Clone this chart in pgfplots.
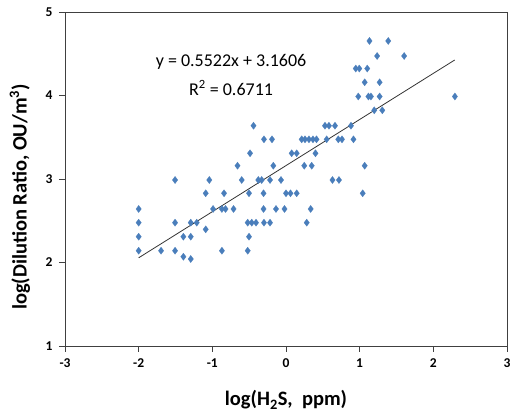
\documentclass[border=0pt]{standalone}
\usepackage{fontspec}
\setmainfont{Carlito}
\usepackage{pgfplots}
\pgfplotsset{compat=1.18}
\definecolor{ptblue}{HTML}{4A7EBB}
\definecolor{frame}{HTML}{404040}
\begin{document}
\begin{tikzpicture}
\useasboundingbox (-65pt,-68pt) rectangle (446pt,346pt);
\begin{axis}[
  at={(0,0)}, anchor=south west,
  scale only axis, width=442pt, height=334pt,
  xmin=-3, xmax=3, ymin=1, ymax=5,
  xtick={-3,-2,...,3}, ytick={1,2,...,5},
  tick align=outside, major tick length=6pt,
  xtick pos=bottom, ytick pos=left,
  axis line style={frame, line width=0.9pt},
  every tick/.style={frame, line width=0.9pt},
  /pgf/number format/assume math mode=true,
  ticklabel style={font=\fontsize{13.5}{15}\selectfont\bfseries},
  xticklabel style={yshift=-3pt},
  yticklabel style={xshift=-3pt},
  xlabel={log(H\textsubscript{2}S,\ \ ppm)},
  ylabel={log(Dilution Ratio, OU/m\textsuperscript{3})},
  label style={font=\fontsize{20.5}{24}\selectfont\bfseries},
  xlabel style={at={(axis description cs:0.5,-0.162)}, anchor=center},
  ylabel style={at={(axis description cs:-0.102,0.446)}, anchor=center},
  clip=false,
]
\addplot[only marks, mark=diamond*, mark size=3.6pt, mark options={fill=ptblue, draw=ptblue, line width=0.2pt}] coordinates {
(1.133,4.653) (1.388,4.653)
(1.237,4.473) (1.604,4.473)
(0.947,4.323) (0.995,4.323) (1.103,4.323)
(1.068,4.158) (1.271,4.158)
(0.981,3.988) (1.119,3.988) (1.153,3.988) (1.271,3.988) (2.293,3.988)
(1.198,3.823) (1.307,3.823)
(-0.441,3.638) (0.529,3.638) (0.583,3.638) (0.665,3.638) (0.882,3.638)
(-0.299,3.475) (-0.19,3.475) (0.213,3.475) (0.258,3.475) (0.312,3.475) (0.366,3.475) (0.414,3.475) (0.552,3.475) (0.71,3.475) (0.76,3.475) (0.916,3.475)
(-0.488,3.308) (0.077,3.308) (0.145,3.308) (0.4,3.308)
(-0.658,3.159) (-0.172,3.159) (0.248,3.159) (0.349,3.159) (1.068,3.159)
(-1.506,2.988) (-1.041,2.988) (-0.601,2.988) (-0.376,2.988) (-0.33,2.988) (-0.217,2.988) (-0.068,2.988) (0.631,2.988) (0.719,2.988)
(-1.09,2.829) (-0.841,2.829) (-0.502,2.829) (-0.305,2.829) (0.0,2.829) (0.061,2.829) (0.145,2.829) (1.041,2.829)
(-2.0,2.641) (-0.99,2.641) (-0.87,2.641) (-0.821,2.641) (-0.712,2.641) (-0.305,2.641) (-0.136,2.641) (-0.02,2.641) (0.335,2.641)
(-2.0,2.477) (-1.506,2.477) (-1.293,2.477) (-1.212,2.477) (-0.52,2.477) (-0.465,2.477) (-0.407,2.477) (-0.299,2.477) (-0.217,2.477) (0.281,2.477)
(-1.09,2.397)
(-2.0,2.309) (-1.393,2.309) (-1.293,2.309) (-0.502,2.309)
(-2.0,2.141) (-1.696,2.141) (-1.506,2.141) (-0.87,2.141) (-0.52,2.141)
(-1.393,2.069)
(-1.293,2.042)
};
\addplot[black!80, line width=0.8pt] coordinates {(-2,2.0562) (2.29,4.4251)};
\node[font=\fontsize{18}{22}\selectfont] at (axis cs:-0.746,4.40) {y = 0.5522x + 3.1606};
\node[font=\fontsize{18}{22}\selectfont] at (axis cs:-0.746,4.09) {R\textsuperscript{2} = 0.6711};
\end{axis}
\end{tikzpicture}
\end{document}
